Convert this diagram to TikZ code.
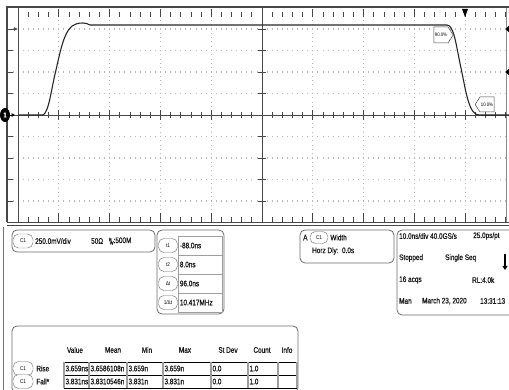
\documentclass[tikz,border=0pt]{standalone}
\usepackage{fontspec}
\setmainfont{Liberation Sans}[FakeStretch=0.8,FakeBold=0.8]
\newfontfamily\pillfont{Liberation Sans}[FakeStretch=0.85]
\usetikzlibrary{positioning,arrows.meta,shapes.geometric,shapes.symbols}
\definecolor{framegray}{gray}{0.28}
\definecolor{dotgray}{gray}{0.72}
\definecolor{cellgray}{gray}{0.62}
\definecolor{boxgray}{gray}{0.42}
\newcommand\invdt{1/Δt}
\begin{document}
\begin{tikzpicture}[x=1pt,y=-1pt,
  txt/.style={font=\fontsize{8}{9}\selectfont,inner sep=0pt,anchor=west,text=black!90},
  hdr/.style={font=\fontsize{8}{9}\selectfont,inner sep=0pt,text=black!90},
  pill/.style={draw=boxgray,fill=white,rounded corners=5.5pt,minimum width=20pt,minimum height=14pt,inner sep=0pt,font=\pillfont\fontsize{5.5}{6}\selectfont},
  panel/.style={draw=boxgray,rounded corners=5pt,line width=0.8pt},
  cell/.style={draw=cellgray,line width=0.6pt},
  tagbox/.style={signal,draw=framegray,fill=white,line width=0.5pt,inner sep=1pt,minimum height=16pt,signal pointer angle=115,font=\pillfont\fontsize{5}{6}\selectfont},
  wave/.style={line width=1.1pt,black!85},
  tick/.style={line width=0.7pt,framegray}]

\useasboundingbox (0,0) rectangle (509,390);
\clip (0,0) rectangle (509,390);

\foreach \j in {1,2,3,4,6,7,8,9}{
  \foreach \k in {1,...,99}
    \fill[dotgray] ({8+5.08*\k-0.4},{7.5+21.5*\j-0.9}) rectangle ++(0.8,1.8);
}
\foreach \i in {1,2,3,4,6,7,8,9}{
  \foreach \k in {1,...,49}
    \fill[dotgray] ({8+50.8*\i-0.4},{7.5+4.3*\k-0.4}) rectangle ++(0.8,0.8);
}

\foreach \k in {1,...,49}{
  \draw[tick] ({8+10.16*\k},12) -- ++(0,5);
  \draw[tick] ({8+10.16*\k},217) -- ++(0,5);
  \draw[tick] ({8+10.16*\k},112) -- ++(0,6);
}
\foreach \i in {1,...,9}{
  \draw[tick] ({8+50.8*\i},9) -- ++(0,8);
  \draw[tick] ({8+50.8*\i},213) -- ++(0,9);
  \draw[tick] ({8+50.8*\i},110) -- ++(0,10);
}
\foreach \j in {1,...,9}{
  \draw[tick] (7,{7.5+21.5*\j}) -- ++(6,0);
  \draw[tick] (258,{7.5+21.5*\j}) -- ++(8,0);
}

\draw[framegray,line width=0.9pt] (7,115) -- (509,115);
\draw[framegray,line width=0.9pt] (262,7) -- (262,222);
\draw[black!70,line width=0.7pt] (18,8) -- (18,222);
\draw[black!45,line width=0.9pt] (506,8) -- (506,222);

\draw[framegray,line width=2pt] (6,7) -- (509,7);
\draw[framegray,line width=1.4pt] (7,7) -- (7,222);
\draw[framegray,line width=1.6pt] (7,222.5) -- (509,222.5);
\draw[framegray,line width=1pt] (7,225.5) -- (509,225.5);

\draw[tick,-{Latex[length=4pt,width=4pt]}] (7,29) -- (18,29);
\node[ellipse,fill=black,minimum width=10pt,minimum height=14pt,inner sep=0pt,text=white,font=\bfseries\fontsize{7}{7}\selectfont] (ch) at (5,115) {1};
\draw[-{Latex[length=3.5pt,width=4pt]},line width=0.8pt] (ch.east) -- ++(5,0);
\fill (462,9) -- (468,9) -- (465,17) -- cycle;
\foreach \y in {29,72}
  \fill (509,{\y-3.5}) -- (505.5,\y) -- (509,{\y+3.5}) -- cycle;

\draw[wave] (18,115) -- (43,115) .. controls (49,112) and (51,90) .. (56,70)
  .. controls (61,48) and (65,27) .. (76,24) .. controls (80,22.5) and (86,22.5) .. (90,25)
  -- (447,25) .. controls (454,25) and (456,45) .. (461,68)
  .. controls (466,92) and (469,115) .. (479,115) -- (509,115);
\draw[line width=1.8pt,black!85] (482,115.5) -- (496,115.5);

\node[tagbox,signal to=east] (m90) at (441,35) {90.0\%};
\node[tagbox,signal to=west,minimum height=15pt] (m10) at (487,104.5) {10.0\%};

\draw[black!55,line width=0.6pt] (3,227) -- (3,390);

\draw[panel] (12,230) rectangle (155,252);
\node[pill] (chc1) at (23,241) {C1};
\node[txt] (vdiv) at (35,241) {250.0mV/div};
\node[txt] (imp) at (91,241) {50Ω};
\node[txt] (bw) at (109,241) {\raisebox{2pt}{\fontsize{4.5}{5}\selectfont B}\hspace{-1.8pt}\raisebox{-1.5pt}{\fontsize{5}{5}\selectfont W}:500M};

\draw[panel] (157,230) rectangle (224,314);
\foreach \lab/\val [count=\r] in {t1/-88.0ns,t2/8.0ns,Δt/96.0ns,\invdt/10.417MHz}{
  \draw[cell] (178,{217+19*\r}) rectangle (222,{236+19*\r});
  \node[pill,minimum width=19pt] (cur\r) at (168,{226.5+19*\r}) {\lab};
  \node[txt,right=2pt of cur\r] (val\r) {\val};
}

\draw[panel] (300,230) rectangle (394,263);
\node[txt] (meas) at (303,237.5) {A};
\node[pill,minimum width=18pt,minimum height=12pt] (mc1) at (319,237.5) {C1};
\node[txt,right=2pt of mc1] (width) {Width};
\node[txt] (hdly) at (312,251) {Horz Dly:\ \ 0.0s};

\draw[panel] (397,230) rectangle (530,315);
\node[txt] (hdiv) at (399,236) {10.0ns/div 40.0GS/s};
\node[txt] (ppt) at (473,236) {25.0ps/pt};
\node[txt] (stop) at (399,258) {Stopped};
\node[txt] (seq) at (445,258) {Single Seq};
\draw[line width=2pt,-{Triangle[length=4pt,width=5pt]}] (505,254) -- (505,270);
\node[txt] (acq) at (399,280) {16 acqs};
\node[txt] (rl) at (472,280) {RL:4.0k};
\node[txt] (man) at (399,301) {Man};
\node[txt] (date) at (422,301) {March 23, 2020};
\node[txt] (clock) at (480,301) {13:31:13};

\draw[panel] (12,326) rectangle (298,393);
\foreach \h/\x in {Value/75,Mean/113,Min/147,Max/185,St Dev/228,Count/262,Info/287}
  \node[hdr] (h\x) at (\x,350) {\h};
\draw[black,line width=0.8pt] (64,362) -- (297,362) (64,375) -- (297,375) (64,388) -- (297,388);
\foreach \x in {64,89,127,163,211,248,278,297}
  \draw[cellgray,line width=1.2pt] (\x,362) -- (\x,388);
\node[pill] (rc1) at (23,368.5) {C1};
\node[txt,right=3pt of rc1] (rise) {Rise};
\node[pill] (fc1) at (23,381.5) {C1};
\node[txt,right=3pt of fc1] (fall) {Fall*};
\foreach \v/\x [count=\c] in {3.659ns/64,3.6586108n/89,3.659n/127,3.659n/163,0.0/211,1.0/248}
  \node[txt] (rv\c) at ({\x+1.3},368.5) {\v};
\foreach \v/\x [count=\c] in {3.831ns/64,3.8310546n/89,3.831n/127,3.831n/163,0.0/211,1.0/248}
  \node[txt] (fv\c) at ({\x+1.3},381.5) {\v};
\end{tikzpicture}
\end{document}
